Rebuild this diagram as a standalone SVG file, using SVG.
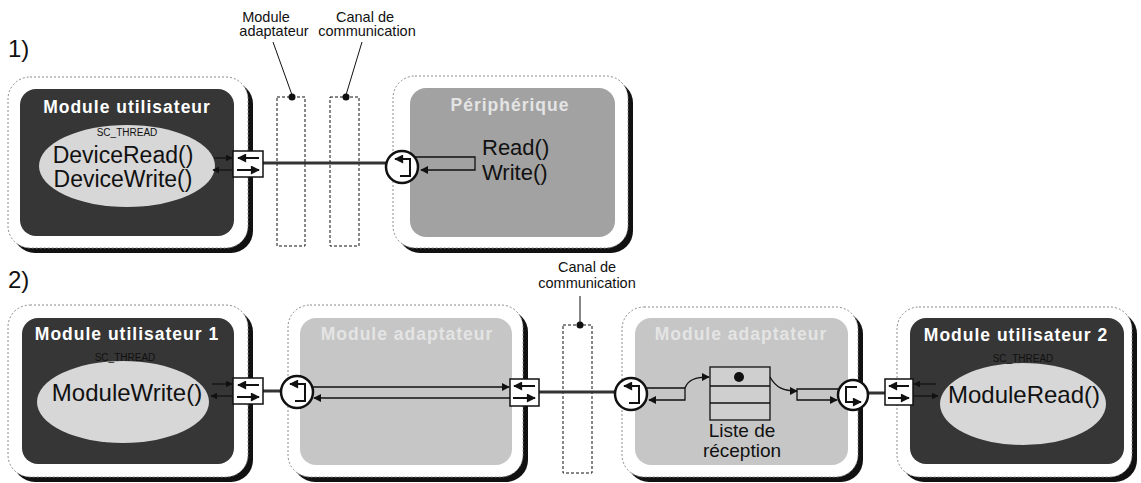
<svg xmlns="http://www.w3.org/2000/svg" width="1141" height="483" viewBox="0 0 1141 483">
<style>
  text { font-family: "Liberation Sans", Arial, sans-serif; }
  .shadow { fill: #111; }
  .frame { fill: #fff; stroke: #8a8a8a; stroke-width: 1; stroke-dasharray: 2 2; }
  .dark { fill: #363636; }
  .gray { fill: #a2a2a2; }
  .light { fill: #c6c6c6; }
  .ell { fill: #d7d7d7; }
  .title { font-weight: bold; font-size: 17.5px; letter-spacing: 1px; text-anchor: middle; }
  .tw { fill: #ffffff; }
  .tf { fill: #e4e4e4; }
  .sc { font-size: 10px; text-anchor: middle; fill: #111; }
  .big { font-size: 23px; text-anchor: middle; fill: #111; }
  .lbl { font-size: 14.5px; text-anchor: middle; fill: #111; }
  .num { font-size: 24px; fill: #111; }
  .port { fill: #fff; stroke: #111; stroke-width: 1.5; }
  .pa { stroke: #111; stroke-width: 2; fill: none; }
  .circ { fill: #fff; stroke: #111; stroke-width: 2.5; }
  .sym { stroke: #111; stroke-width: 2; fill: none; }
  .wire { stroke: #333; stroke-width: 3; fill: none; }
  .thin { stroke: #111; stroke-width: 1.3; fill: none; }
  .chan { fill: #fff; stroke: #111; stroke-width: 1; stroke-dasharray: 3 2; }
  .lead { stroke: #111; stroke-width: 1; fill: none; }
</style>
<defs>
  <marker id="arr" viewBox="0 0 10 10" refX="9" refY="5" markerWidth="8" markerHeight="8" markerUnits="userSpaceOnUse" orient="auto">
    <path d="M0,0 L10,5 L0,10 z" fill="#111"/>
  </marker>
  <marker id="arrS" viewBox="0 0 10 10" refX="9" refY="5" markerWidth="7" markerHeight="7" markerUnits="userSpaceOnUse" orient="auto">
    <path d="M0,0 L10,5 L0,10 z" fill="#111"/>
  </marker>
  <marker id="arrP" viewBox="0 0 10 10" refX="9" refY="5" markerWidth="10" markerHeight="9" markerUnits="userSpaceOnUse" orient="auto">
    <path d="M0,0 L10,5 L0,10 z" fill="#111"/>
  </marker>
</defs>

<!-- labels -->
<text class="num" x="8" y="57">1)</text>
<text class="num" x="8" y="288">2)</text>

<!-- ===== Part 1 ===== -->
<g id="user1">
  <rect class="shadow" x="13" y="82" width="240" height="171" rx="22"/>
  <rect class="frame" x="8" y="77" width="240" height="171" rx="22"/>
  <rect class="dark" x="20" y="89" width="214" height="147" rx="16"/>
  <text class="title tw" x="127" y="113">Module utilisateur</text>
  <ellipse class="ell" cx="127" cy="166" rx="88" ry="41"/>
  <text class="sc" x="127" y="136">SC_THREAD</text>
  <text class="big" x="123" y="163">DeviceRead()</text>
  <text class="big" x="123" y="187">DeviceWrite()</text>
</g>

<g id="adapt1">
  <rect class="chan" x="277" y="97" width="28" height="149"/>
  <circle cx="292" cy="97" r="3.5" fill="#111"/>
  <text class="lbl" x="266" y="22">Module</text>
  <text class="lbl" x="274" y="36">adaptateur</text>
</g>

<g id="canal1">
  <rect class="chan" x="330" y="97" width="29" height="149"/>
  <circle cx="346" cy="97" r="3.5" fill="#111"/>
  <text class="lbl" x="365" y="22">Canal de</text>
  <text class="lbl" x="367" y="36">communication</text>
</g>

<g id="periph">
  <rect class="shadow" x="398" y="81" width="235" height="172" rx="22"/>
  <rect class="frame" x="393" y="76" width="235" height="172" rx="22"/>
  <rect class="gray" x="410" y="88" width="205" height="149" rx="16"/>
  <text class="title tf" x="510" y="111">Périphérique</text>
  <text x="482" y="155" style="font-size:22px" fill="#111">Read()</text>
  <text x="482" y="180" style="font-size:22px" fill="#111">Write()</text>
</g>

<!-- ===== Part 2 ===== -->
<g id="user2a">
  <rect class="shadow" x="13" y="310" width="240" height="172" rx="22"/>
  <rect class="frame" x="8" y="305" width="240" height="172" rx="22"/>
  <rect class="dark" x="22" y="318" width="212" height="146" rx="16"/>
  <text class="title tw" x="127" y="340">Module utilisateur 1</text>
  <ellipse class="ell" cx="123" cy="402" rx="86" ry="41"/>
  <text class="sc" x="125" y="361">SC_THREAD</text>
  <text class="big" x="127" y="401" style="font-size:24px">ModuleWrite()</text>
</g>

<g id="adapt2a">
  <rect class="shadow" x="293" y="310" width="235" height="172" rx="22"/>
  <rect class="frame" x="288" y="305" width="235" height="172" rx="22"/>
  <rect class="light" x="300" y="318" width="212" height="147" rx="16"/>
  <text class="title tf" x="407" y="340">Module adaptateur</text>
</g>

<g id="canal2">
  <rect class="chan" x="563" y="325" width="29" height="148"/>
  <circle cx="580" cy="325" r="3.5" fill="#111"/>
  <text class="lbl" x="587" y="272">Canal de</text>
  <text class="lbl" x="587" y="288">communication</text>
</g>

<g id="adapt2b">
  <rect class="shadow" x="627" y="312" width="236" height="170" rx="22"/>
  <rect class="frame" x="622" y="307" width="236" height="170" rx="22"/>
  <rect class="light" x="635" y="318" width="213" height="147" rx="16"/>
  <text class="title tf" x="741" y="340">Module adaptateur</text>
</g>

<g id="liste">
  <rect x="710" y="367" width="60" height="53" fill="#cfcfcf" stroke="#111" stroke-width="1.3"/>
  <line x1="710" y1="386" x2="770" y2="386" stroke="#111" stroke-width="1.3"/>
  <line x1="710" y1="403" x2="770" y2="403" stroke="#111" stroke-width="1.3"/>
  <circle cx="739" cy="377" r="5" fill="#111"/>
  <text x="742" y="437" style="font-size:19px;text-anchor:middle" fill="#111">Liste de</text>
  <text x="742" y="457" style="font-size:19px;text-anchor:middle" fill="#111">réception</text>
</g>

<g id="user2b">
  <rect class="shadow" x="902" y="312" width="235" height="170" rx="22"/>
  <rect class="frame" x="897" y="307" width="235" height="170" rx="22"/>
  <rect class="dark" x="910" y="318" width="214" height="146" rx="16"/>
  <text class="title tw" x="1016" y="341">Module utilisateur 2</text>
  <ellipse class="ell" cx="1023" cy="404" rx="83" ry="41"/>
  <text class="sc" x="1023" y="362">SC_THREAD</text>
  <text class="big" x="1024" y="403" style="font-size:24px">ModuleRead()</text>
</g>

<!-- ===== Connectors ===== -->
<g id="connectors">
  <line class="lead" x1="292" y1="95" x2="273" y2="42"/>
  <line class="lead" x1="346" y1="95" x2="362" y2="42"/>
  <line class="lead" x1="580" y1="323" x2="580" y2="296"/>

  <line class="thin" x1="214" y1="158" x2="232" y2="158" marker-end="url(#arrS)"/>
  <line class="thin" x1="232" y1="170" x2="213" y2="170" marker-end="url(#arrS)"/>
  <line class="wire" x1="263" y1="163" x2="386" y2="163"/>
  <path class="thin" d="M415,157 H475 V170 H421" marker-end="url(#arr)"/>

  <line class="thin" x1="212" y1="384" x2="232" y2="384" marker-end="url(#arrS)"/>
  <line class="thin" x1="232" y1="396" x2="211" y2="396" marker-end="url(#arrS)"/>
  <line class="wire" x1="263" y1="391" x2="282" y2="391"/>
  <line class="thin" x1="312" y1="387" x2="509" y2="387" marker-end="url(#arr)"/>
  <line class="thin" x1="510" y1="398" x2="314" y2="398" marker-end="url(#arr)"/>
  <line class="wire" x1="539" y1="392" x2="616" y2="392"/>
  <path class="thin" d="M645,388 H685 V400 H649" marker-end="url(#arr)"/>
  <path class="thin" d="M685,388 C688,380 695,377 709,377" marker-end="url(#arr)"/>
  <path class="thin" d="M770,377 C776,388 784,391 797,391" marker-end="url(#arr)"/>
  <path class="thin" d="M839,389 H797 V400 H837" marker-end="url(#arr)" stroke="#333"/>
  <line class="wire" x1="868" y1="393" x2="885" y2="393"/>
  <line class="thin" x1="936" y1="384" x2="914" y2="384" marker-end="url(#arrS)"/>
  <line class="thin" x1="914" y1="396" x2="938" y2="396" marker-end="url(#arrS)"/>
</g>

<!-- ports (boxes) -->
<g id="port1">
  <rect class="port" x="233" y="151" width="30" height="26"/>
  <line class="pa" x1="259" y1="158" x2="238" y2="158" marker-end="url(#arrP)"/>
  <line class="pa" x1="237" y1="170" x2="259" y2="170" marker-end="url(#arrP)"/>
</g>
<g id="port2">
  <rect class="port" x="233" y="378" width="30" height="26"/>
  <line class="pa" x1="259" y1="385" x2="238" y2="385" marker-end="url(#arrP)"/>
  <line class="pa" x1="237" y1="397" x2="259" y2="397" marker-end="url(#arrP)"/>
</g>
<g id="port3">
  <rect class="port" x="510" y="379" width="29" height="27"/>
  <line class="pa" x1="535" y1="386" x2="514" y2="386" marker-end="url(#arrP)"/>
  <line class="pa" x1="513" y1="398" x2="535" y2="398" marker-end="url(#arrP)"/>
</g>
<g id="port4">
  <rect class="port" x="885" y="379" width="28" height="26"/>
  <line class="pa" x1="909" y1="386" x2="889" y2="386" marker-end="url(#arrP)"/>
  <line class="pa" x1="888" y1="398" x2="909" y2="398" marker-end="url(#arrP)"/>
</g>

<!-- circular ports -->
<g id="cport1">
  <circle class="circ" cx="402" cy="167" r="16"/>
  <path class="sym" d="M400,176 H410 V159 H395" marker-end="url(#arrP)"/>
</g>
<g id="cport2">
  <circle class="circ" cx="297" cy="392" r="16"/>
  <path class="sym" d="M295,401 H305 V384 H290" marker-end="url(#arrP)"/>
</g>
<g id="cport3">
  <circle class="circ" cx="631" cy="394" r="16"/>
  <path class="sym" d="M629,403 H639 V386 H624" marker-end="url(#arrP)"/>
</g>
<g id="cport4">
  <circle class="circ" cx="853" cy="395" r="15"/>
  <path class="sym" d="M857,387 H846 V402 H861" marker-end="url(#arrP)"/>
</g>
</svg>
